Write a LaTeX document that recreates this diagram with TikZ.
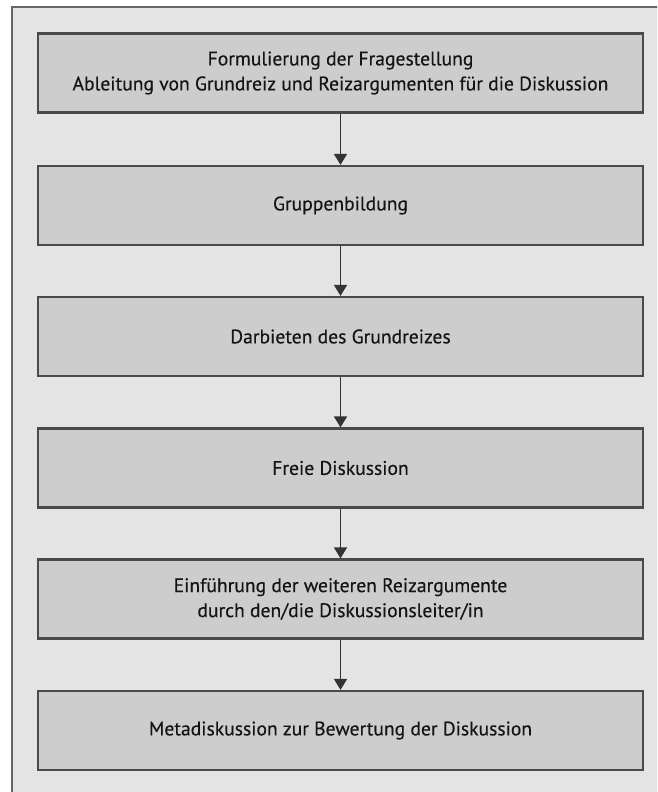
\documentclass[tikz,border=0pt]{standalone}
\usepackage{fontspec}
\setmainfont{PT Sans}[FakeBold=0.35]
\newfontfamily\boxfont{PT Sans}[FakeBold=0.35]
\usetikzlibrary{arrows.meta}
\definecolor{framefill}{HTML}{E4E4E4}
\definecolor{boxfill}{HTML}{CDCDCD}
\definecolor{boxline}{HTML}{4A4A4A}
\definecolor{txt}{HTML}{141414}
\tikzset{
  stepbox/.style={draw=boxline, line width=2.2pt, fill=boxfill, minimum width=605pt, minimum height=79pt,
    align=center, font=\boxfont\addfontfeature{FakeBold=0.35}\fontsize{19.6}{25}\selectfont, text=txt, inner sep=0pt},
  flow/.style={draw=black!80, line width=1.6pt, -{Triangle[width=13pt,length=11pt]}}
}
\begin{document}
\begin{tikzpicture}[x=1pt,y=-1pt]
\useasboundingbox (0,0) rectangle (657,792);
\fill[white] (0,0) rectangle (657,792);
\begin{scope}
\clip (0,0) rectangle (657,792);
\draw[draw=black!60, line width=2pt, fill=framefill] (12,7) rectangle (700,850);
\end{scope}
\node[stepbox] (b1) at (340.5,73) {Formulierung der Fragestellung\\Ableitung von Grundreiz und Reizargumenten für die Diskussion};
\node[stepbox] (b2) at (340.5,205.5) {Gruppenbildung};
\node[stepbox] (b3) at (340.5,336.5) {Darbieten des Grundreizes};
\node[stepbox] (b4) at (340.5,468) {Freie Diskussion};
\node[stepbox] (b5) at (340.5,599) {Einführung der weiteren Reizargumente\\durch den/die Diskussionsleiter/in};
\node[stepbox] (b6) at (340.5,730.5) {Metadiskussion zur Bewertung der Diskussion};
\draw[flow] (b1) -- (b2);
\draw[flow] (b2) -- (b3);
\draw[flow] (b3) -- (b4);
\draw[flow] (b4) -- (b5);
\draw[flow] (b5) -- (b6);
\end{tikzpicture}
\end{document}
